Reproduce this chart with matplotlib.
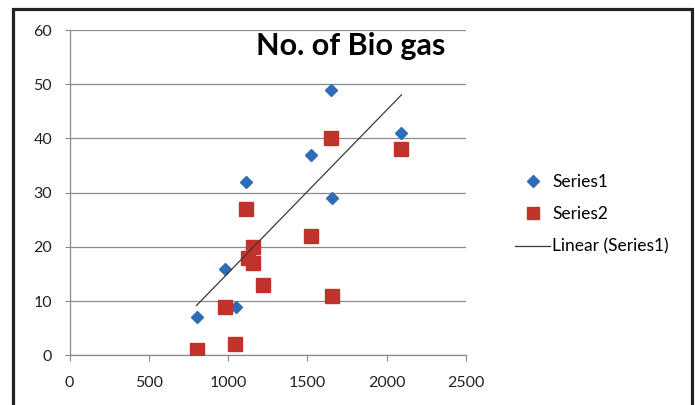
import numpy as np
import matplotlib
matplotlib.use("Agg")
import matplotlib.pyplot as plt
from matplotlib.lines import Line2D
from matplotlib.patches import Rectangle

plt.rcParams['font.family'] = ['Lato', 'DejaVu Sans']

# Series1: blue diamonds (four points sit under the red squares)
x1 = [801, 981, 1047, 1113, 1128, 1158, 1158, 1217, 1521, 1647, 1658, 2093]
y1 = [7, 16, 9, 32, 18, 20, 17, 13, 37, 49, 29, 41]

# Series2: red squares
x2 = [801, 981, 1042, 1113, 1128, 1158, 1158, 1217, 1521, 1647, 1658, 2090]
y2 = [1, 9, 2, 27, 18, 20, 17, 13, 22, 40, 11, 38]

xticks = [0, 500, 1000, 1500, 2000, 2500]
yticks = [0, 10, 20, 30, 40, 50, 60]
title = 'No. of Bio gas'

blue = '#2f6cb8'
red = '#c0332d'
grid = '#8a8a8a'

fig = plt.figure(figsize=(6.95, 4.05), dpi=100)
ax = fig.add_axes([0.1, 0.1227, 0.5705, 0.8032])

for y in yticks:
    ax.axhline(y, color=grid, lw=0.9, zorder=1)

ax.plot(x1, y1, linestyle='none', marker='D', ms=6, color=blue, zorder=3)
ax.plot(x2, y2, linestyle='none', marker='s', ms=9.5, color=red, zorder=4)

# linear trendline over Series1
k, b = np.polyfit(x1, y1, 1)
xs = np.array([min(x1), max(x1)])
ax.plot(xs, k * xs + b, color='#3a3a3a', lw=0.9, zorder=5)

ax.set_xlim(0, 2500)
ax.set_ylim(0, 60)
ax.set_xticks(xticks)
ax.set_yticks(yticks)
ax.tick_params(axis='x', direction='out', length=4, color=grid, pad=11,
               labelsize=11.5, labelcolor='#222222')
ax.tick_params(axis='y', direction='out', length=3.5, color=grid, pad=9,
               labelsize=11.5, labelcolor='#222222')
for s in ['top', 'right']:
    ax.spines[s].set_visible(False)
ax.spines['left'].set_color(grid)
ax.spines['bottom'].set_color(grid)
ax.spines['left'].set_linewidth(0.9)
ax.spines['bottom'].set_linewidth(0.9)

ax.text(0.709, 0.95, title, transform=ax.transAxes, ha='center', va='center',
        fontsize=22, fontweight='bold', color='black')

handles = [
    Line2D([], [], linestyle='none', marker='D', ms=6, color=blue),
    Line2D([], [], linestyle='none', marker='s', ms=8.5, color=red),
    Line2D([], [], color='#3a3a3a', lw=0.9),
]
fig.legend(handles, ['Series1', 'Series2', 'Linear (Series1)'],
           loc='center left', bbox_to_anchor=(0.729, 0.471), frameon=False,
           fontsize=12.5, handlelength=2.0, handletextpad=0.12,
           labelspacing=0.95, borderpad=0)

# outer chart border, open at the bottom edge
fig.patches.append(Rectangle((13.5 / 695, -0.1), 678 / 695, 1.1 - 9.5 / 405,
                             transform=fig.transFigure, fill=False,
                             lw=2.3, ec='#222222'))

fig.savefig('out.png', dpi=100, facecolor='white')
